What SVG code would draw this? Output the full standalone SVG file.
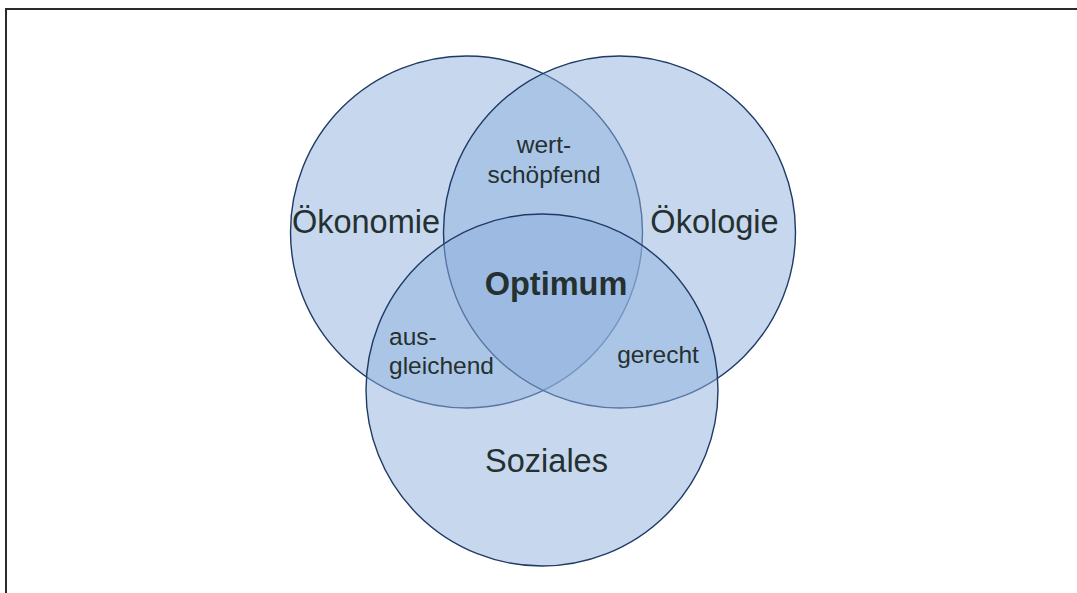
<svg xmlns="http://www.w3.org/2000/svg" width="1077" height="593" viewBox="0 0 1077 593">
  <style>
    .c { fill: #90b2de; fill-opacity: 0.5; stroke: #1f3a66; stroke-width: 1.4; }
    .big { font-family: "Liberation Sans", Arial, sans-serif; font-size: 32.5px; fill: #253030; }
    .bold { font-family: "Liberation Sans", Arial, sans-serif; font-size: 32.5px; font-weight: bold; fill: #253030; }
    .small { font-family: "Liberation Sans", Arial, sans-serif; font-size: 24.5px; fill: #253030; }
  </style>
  <rect x="0" y="0" width="1077" height="593" fill="#ffffff"/>
  <rect id="frame" x="6" y="9" width="1100" height="620" fill="none" stroke="#2b2b2b" stroke-width="2"/>
  <g id="oekonomie">
    <circle class="c" cx="466.5" cy="232" r="176"/>
  </g>
  <g id="oekologie">
    <circle class="c" cx="619.5" cy="232" r="176"/>
  </g>
  <g id="soziales">
    <circle class="c" cx="542" cy="390" r="176"/>
  </g>
  <g id="connectors"></g>
  <g id="labels">
    <text class="big" x="366" y="233" text-anchor="middle">Ökonomie</text>
    <text class="big" x="714.5" y="233" text-anchor="middle">Ökologie</text>
    <text class="big" x="546.5" y="472" text-anchor="middle">Soziales</text>
    <text class="bold" x="556" y="295" text-anchor="middle">Optimum</text>
    <text class="small" x="544" y="153" text-anchor="middle">wert-</text>
    <text class="small" x="544" y="183" text-anchor="middle">schöpfend</text>
    <text class="small" x="389" y="345">aus-</text>
    <text class="small" x="389" y="374">gleichend</text>
    <text class="small" x="658" y="363" text-anchor="middle">gerecht</text>
  </g>
</svg>
